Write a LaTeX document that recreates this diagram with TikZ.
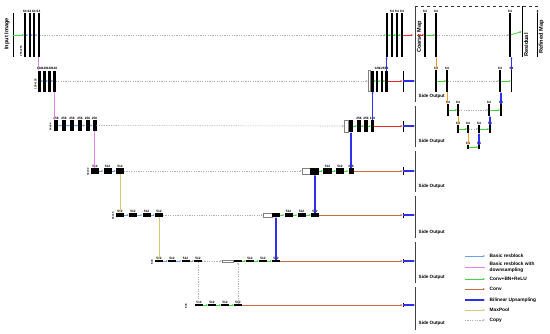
\documentclass[tikz,border=0pt]{standalone}
\usepackage{fontspec}
\setmainfont{Liberation Sans}
\usetikzlibrary{arrows.meta,positioning,calc}
\definecolor{resblk}{HTML}{6F9FE8}
\definecolor{resdown}{HTML}{E47FE8}
\definecolor{cbr}{HTML}{3FD83A}
\definecolor{convred}{HTML}{F02828}
\definecolor{convbrn}{HTML}{CC6A40}
\definecolor{upblue}{HTML}{3030E8}
\definecolor{pool}{HTML}{D8C870}
\definecolor{poolor}{HTML}{F29A30}
\definecolor{copygray}{HTML}{B0B0B0}

\tikzset{
  bar/.style={fill=black, inner sep=0pt, outer sep=0pt},
  bar1/.style={bar, minimum width=2pt, minimum height=44pt},
  bar2/.style={bar, minimum width=2.5pt, minimum height=21pt},
  bar3/.style={bar, minimum width=4pt, minimum height=11pt},
  bar4/.style={bar, minimum width=8pt, minimum height=5.5pt},
  bar5/.style={bar, minimum width=8pt, minimum height=4pt},
  bar6/.style={bar, minimum width=8pt, minimum height=2.5pt},
  catbox/.style={draw=gray, fill=white, line width=0.5pt, inner sep=0pt, outer sep=0pt},
  rbar/.style={bar, minimum width=1.5pt},
  thinline/.style={fill=black, inner sep=0pt, outer sep=0pt, minimum width=0.8pt},
  lbl/.style={font=\fontsize{3.2}{3.2}\selectfont\bfseries, inner sep=0.5pt},
  szlbl/.style={font=\fontsize{2.6}{2.6}\selectfont\bfseries, rotate=90, inner sep=0.3pt},
  tag/.style={font=\fontsize{4.6}{5}\selectfont\bfseries, inner sep=0.5pt, anchor=west},
  maptag/.style={font=\fontsize{5.6}{6}\selectfont\bfseries, rotate=90, inner sep=0.5pt},
  legtxt/.style={font=\fontsize{4.8}{5.8}\selectfont\bfseries, inner sep=0.5pt, anchor=west, align=left},
  arr/.style={-{Stealth[length=2.2pt,width=1.9pt]}},
  resl/.style={arr, draw=resblk, line width=0.8pt},
  downl/.style={arr, draw=resdown, line width=0.8pt},
  cbrl/.style={arr, draw=cbr, line width=0.8pt},
  convr/.style={arr, draw=convred, line width=0.8pt},
  convb/.style={arr, draw=convbrn, line width=0.8pt},
  upl/.style={arr, draw=upblue, line width=1.2pt},
  poolc/.style={arr, draw=pool, line width=0.8pt},
  poolo/.style={arr, draw=poolor, line width=0.8pt},
  copyl/.style={arr, draw=copygray, line width=0.6pt, dash pattern=on 1.2pt off 1.2pt},
  sidel/.style={draw=black!75, line width=0.6pt},
}

\begin{document}
\begin{tikzpicture}[x=1pt,y=-1pt]
\useasboundingbox (0,0) rectangle (550,333);

%% input image
\node[thinline, minimum height=44pt] (input) at (13,35) {};
\node[maptag] (inputlbl) at (7,34) {Input Image};

%% encoder
\foreach \x [count=\i] in {25,29.5,34,38.5}
  \node[bar1, label={[lbl]above:64}] (e1-\i) at (\x,35) {};
\foreach \x [count=\i] in {39.5,44.5,49.5,54.5}
  \node[bar2, label={[lbl]above:128}] (e2-\i) at (\x,81) {};
\foreach \x [count=\i] in {56,64,72,80,87.5,94.5}
  \node[bar3, label={[lbl]above:256}] (e3-\i) at (\x,125.5) {};
\foreach \x [count=\i] in {95,107.5,120}
  \node[bar4, label={[lbl]above:512}] (e4-\i) at (\x,171) {};
\foreach \x [count=\i] in {120,133,146.5,159}
  \node[bar5, label={[lbl]above:512}] (e5-\i) at (\x,215) {};
\foreach \x [count=\i] in {159,172,185.5,198}
  \node[bar6, label={[lbl]above:512}] (e6-\i) at (\x,261) {};
% bridge
\foreach \x [count=\i] in {199,212,225,238}
  \node[bar6, label={[lbl]above:512}] (b-\i) at (\x,305) {};

% sizes
\node[szlbl] (sz1) at (21,51) {256x256};
\node[szlbl] (sz2) at (35.5,84) {128x128};
\node[szlbl] (sz3) at (50.5,127) {64x64};
\node[szlbl] (sz4) at (88,172) {32x32};
\node[szlbl] (sz5) at (113,216) {16x16};
\node[szlbl] (sz6) at (152,262) {8x8};
\node[szlbl] (sz7) at (186,306) {8x8};

\draw[cbrl] (input) -- (e1-1);
\foreach \i/\j in {1/2,2/3,3/4} {
  \draw[resl] (e1-\i) -- (e1-\j);
  \draw[resl] (e2-\i) -- (e2-\j);
  \draw[resl] (e5-\i) -- (e5-\j);
  \draw[resl] (e6-\i) -- (e6-\j);
  \draw[cbrl] (b-\i) -- (b-\j);
}
\foreach \i/\j in {1/2,2/3,3/4,4/5,5/6}
  \draw[resl] (e3-\i) -- (e3-\j);
\foreach \i/\j in {1/2,2/3}
  \draw[resl] (e4-\i) -- (e4-\j);

\draw[downl] (e1-4.south) -- (e1-4.south |- e2-1.north);
\draw[downl] (e2-4.south) -- (e2-4.south |- e3-1.north);
\draw[downl] (e3-6.south) -- (e3-6.south |- e4-1.north);
\draw[poolc] (e4-3.south) -- (e5-1.north);
\draw[poolc] (e5-4.south) -- (e6-1.north);
\draw[copyl] (e6-4.south) -- (e6-4.south |- b-1.north);

%% decoder
\foreach \x [count=\i] in {387,392,397,402}
  \node[bar1] (d1-\i) at (\x,35) {};
\node[catbox, minimum width=2.5pt, minimum height=21pt] (d2-0) at (369,81) {};
\foreach \x [count=\i] in {372.5,377.2,381.9,386.6}
  \node[bar2] (d2-\i) at (\x,81) {};
\node[catbox, minimum width=4pt, minimum height=12pt] (d3-0) at (346,126) {};
\node[bar3, minimum height=12pt] (d3-1) at (351,126) {};
\node[bar3, minimum height=12pt] (d3-2) at (359,126) {};
\node[bar3, minimum height=12pt] (d3-3) at (366,126) {};
\node[bar3, minimum width=3pt, minimum height=12pt] (d3-4) at (372.5,126) {};
\node[catbox, minimum width=8pt, minimum height=5.5pt] (d4-0) at (306,171) {};
\node[bar4, minimum width=9pt, minimum height=7pt] (d4-1) at (314.5,171) {};
\node[bar4, minimum width=9pt] (d4-2) at (327.5,171) {};
\node[bar4] (d4-3) at (340,171) {};
\node[bar4, minimum width=5pt] (d4-4) at (351,171) {};
\node[catbox, minimum width=9pt, minimum height=4pt] (d5-0) at (267.5,215) {};
\foreach \x [count=\i] in {276,288.5,301.5,315}
  \node[bar5] (d5-\i) at (\x,215) {};
\node[catbox, minimum width=11pt, minimum height=2.5pt] (d6-0) at (227.5,261) {};
\foreach \x [count=\i] in {237.5,250,263,276}
  \node[bar6] (d6-\i) at (\x,261) {};

% channel labels
\foreach \r/\i/\t in {1/2/64,1/3/64,1/4/64,2/2/128,2/3/128,2/4/64,
    3/2/256,3/3/256,3/4/128,4/2/512,4/3/512,4/4/256,
    5/2/512,5/3/512,5/4/512,6/2/512,6/3/512,6/4/512}
  \node[lbl, above=0pt of d\r-\i] (c\r-\i) {\t};

\foreach \i/\j in {1/2,2/3,3/4} {
  \draw[cbrl] (d1-\i) -- (d1-\j);
  \draw[cbrl] (d2-\i) -- (d2-\j);
  \draw[cbrl] (d3-\i) -- (d3-\j);
  \draw[cbrl] (d4-\i) -- (d4-\j);
  \draw[cbrl] (d5-\i) -- (d5-\j);
  \draw[cbrl] (d6-\i) -- (d6-\j);
}

% copies
\draw[copyl] (e1-4) -- (d1-1);
\draw[copyl] (e2-4) -- (d2-0);
\draw[copyl] (e3-6) -- (d3-0);
\draw[copyl] (e4-3) -- (d4-0);
\draw[copyl] (e5-4) -- (d5-0);
\draw[copyl] (e6-4) -- (d6-0);
\draw[copyl] (b-4.north) -- (b-4.north |- d6-1.south);

% upsampling
\draw[upl] (d6-4.north) -- (d6-4.north |- d5-1.south);
\draw[upl] (d5-4.north) -- (d5-4.north |- d4-1.south);
\draw[upl] (d4-4.north) -- (d4-4.north |- d3-1.south);
\draw[upl] (d3-4.north) -- (d3-4.north |- d2-1.south);
\draw[upl] (d2-4.north) -- (d2-4.north |- d1-1.south);

%% side outputs
\foreach \r/\y/\h in {2/81/21,3/126/11,4/171/8,5/215/5,6/261/4,7/305/4} {
  \node[thinline, minimum height=\h pt] (t\r) at (403,\y) {};
  \coordinate (s\r) at (415,\y);
}
\coordinate (coarse) at (415,35);
\draw[convr, shorten >=2pt] (d1-4) -- (coarse);
\draw[convr] (d2-4) -- (t2);
\draw[convr] (d3-4) -- (t3);
\draw[convb] (d4-4) -- (t4);
\draw[convb] (d5-4) -- (t5);
\draw[convb] (d6-4) -- (t6);
\draw[convb] (b-4) -- (t7);
\foreach \r in {2,...,7}
  \draw[upl] (t\r) -- (s\r);

\draw[sidel] (415,6) -- (415,102);
\draw[sidel] (415,106) -- (415,147);
\draw[sidel] (415,151) -- (415,192);
\draw[sidel] (415,196) -- (415,238);
\draw[sidel] (415,242) -- (415,283);
\draw[sidel] (415,287) -- (415,330);
\foreach \y in {96,141,186,232,277,323}
  \node[tag] at (418,\y) {Side Output};
\node[maptag] (coarselbl) at (419.5,37) {Coarse Map};

%% refinement module
\node[rbar, minimum height=44pt, label={[lbl]above:64}] (ra1) at (425,35) {};
\node[rbar, minimum height=44pt, label={[lbl]above:64}] (ra2) at (436,35) {};
\node[rbar, minimum height=44pt, label={[lbl]above:64}] (rra) at (510,35) {};
\foreach \x [count=\i] in {436,447,500,511.5}
  \node[rbar, minimum height=22pt, label={[lbl]above:64}] (rb-\i) at (\x,81) {};
\foreach \x [count=\i] in {448,458,489,501}
  \node[rbar, minimum height=12pt, label={[lbl]above:64}] (rc-\i) at (\x,110) {};
\foreach \x [count=\i] in {458,468,479,490}
  \node[rbar, minimum height=8pt, label={[lbl]above:64}] (rd-\i) at (\x,129) {};
\foreach \x [count=\i] in {468,479}
  \node[rbar, minimum height=4pt, label={[lbl]above:64}] (re-\i) at (\x,147) {};
\node[thinline, minimum height=51pt] (resid) at (522,31.5) {};
\node[thinline, minimum height=44pt] (refmap) at (537.5,35) {};
\node[maptag] (residlbl) at (526,45) {Residual};
\node[maptag] (reflbl) at (541.5,37) {Refined Map};

\draw[convr, shorten <=2pt] (coarse) -- (ra1);
\draw[cbrl] (ra1) -- (ra2);
\draw[copyl] (ra2) -- (rra);
\draw[cbrl] (rra) -- (resid);
\foreach \s in {b,c,d} {
  \draw[cbrl] (r\s-1) -- (r\s-2);
  \draw[copyl] (r\s-2) -- (r\s-3);
  \draw[cbrl] (r\s-3) -- (r\s-4);
}
\draw[cbrl] (re-1) -- (re-2);
\draw[poolo] (ra2.south) -- (ra2.south |- rb-1.north);
\draw[poolo] (rb-2.south) -- (rb-2.south |- rc-1.north);
\draw[poolo] (rc-2.south) -- (rc-2.south |- rd-1.north);
\draw[poolo] (rd-2.south) -- (rd-2.south |- re-1.north);
\draw[upl] (re-2.north) -- (re-2.north |- rd-3.south);
\draw[upl] (rd-4.north) -- (rd-4.north |- rc-3.south);
\draw[upl] (rc-4.north) -- (rc-4.north |- rb-3.south);
\draw[upl] (rb-4.north) -- (rb-4.north |- rra.south);
\coordinate (ctop) at (415,6);
\draw[arr, dashed, line width=0.5pt, draw=black!80] (ctop) -| (refmap.north);

%% legend
\foreach \y/\s/\t [count=\k] in {256/resl/Basic resblock,
    267.5/downl/{Basic resblock with\\downsampling},
    279/cbrl/Conv+BN+ReLU,289/convb/Conv,300/upl/Bilinear Upsampling,
    310/poolc/MaxPool,320/copyl/Copy} {
  \coordinate (la\k) at (465,\y);
  \coordinate (lb\k) at (485,\y);
  \draw[\s] (la\k) -- (lb\k);
  \node[legtxt] (lt\k) at (489,\y) {\t};
}
\end{tikzpicture}
\end{document}
